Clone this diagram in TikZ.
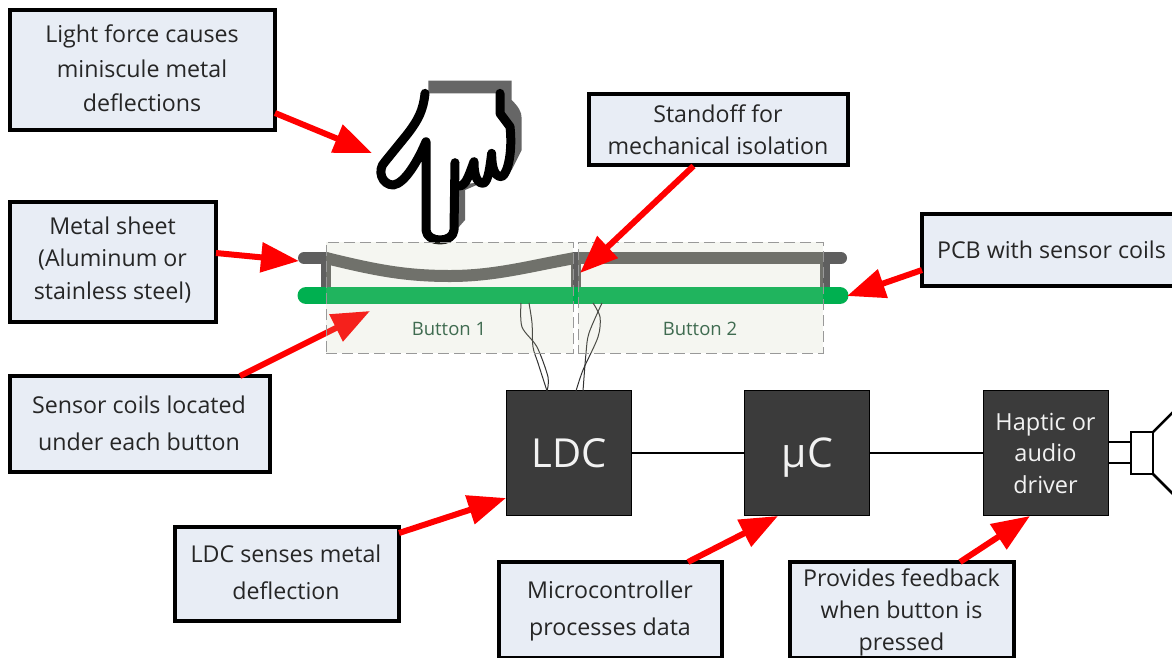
\documentclass[tikz,border=0pt]{standalone}
\usepackage{fontspec}
\setmainfont{Open Sans}
\usetikzlibrary{arrows.meta}
\definecolor{boxfill}{HTML}{E8EDF5}
\definecolor{darkbox}{HTML}{3B3B3B}
\definecolor{metal}{HTML}{5F5F5F}
\definecolor{pcbgreen}{HTML}{00B050}
\definecolor{buttonfill}{RGB}{200,205,170}
\definecolor{buttontext}{HTML}{3F6B50}
\definecolor{handshadow}{HTML}{666666}
\tikzset{
  infobox/.style={draw=black,line width=3.5pt,fill=boxfill,outer sep=0pt,inner sep=0pt},
  notetext/.style={inner sep=0pt,align=center,text=black!85,font=\fontsize{23.2}{#1}\selectfont},
  notetext/.default=35,
  chip/.style={draw=black,line width=1pt,fill=darkbox,text=white!95!black,outer sep=0pt,inner sep=0pt,align=center,minimum width=125pt,minimum height=125pt},
  callout/.style={draw=red,line width=6pt,-{Triangle[length=38pt,width=29pt]}},
  link/.style={draw=black,line width=2pt},
  wire/.style={draw=black!80,line width=1pt},
  sheet/.style={draw=metal,line width=12pt},
  post/.style={draw=metal,line width=10.5pt},
  buttonzone/.style={draw=black!40,dash pattern=on 11pt off 5pt,line width=1pt,fill=buttonfill,fill opacity=0.165,minimum height=111pt,outer sep=0pt,inner sep=0pt},
  buttonlabel/.style={text=buttontext,font=\fontsize{18.5}{20}\selectfont},
  handline/.style={draw=black,line width=9pt,line cap=round,line join=round}
}
\begin{document}
\begin{tikzpicture}[x=1pt,y=-1pt]
\useasboundingbox (0,0) rectangle (1172,657);
\clip (0,0) rectangle (1172,657);
\fill[white] (0,0) rectangle (1172,657);

% hand
\begin{scope}[shift={(290,70)},scale=1/3]
\fill[handshadow] (415,32) -- (665,32) -- (665,90) .. controls (685,110) and (695,125) .. (695,145) -- (695,240) -- (665,300) -- (525,360) -- (525,450) -- (490,490) -- (470,300) -- (415,70) -- cycle;
\fill[white] (405,70) .. controls (400,120) and (385,150) .. (350,195) -- (285,275) .. controls (260,300) and (275,345) .. (310,345) .. controls (340,340) and (370,290) .. (408,240) -- (408,480) .. controls (410,520) and (490,520) .. (492,480) -- (495,350) -- (640,320) .. controls (660,300) and (668,240) .. (660,170) -- (630,130) -- (630,70) -- cycle;
\draw[handline] (405,70) .. controls (400,120) and (385,150) .. (350,195) -- (285,275) .. controls (260,300) and (275,345) .. (310,345) .. controls (345,340) and (385,270) .. (408,215) -- (408,480) .. controls (410,520) and (490,520) .. (492,480) -- (495,278);
\draw[handline] (495,345) .. controls (525,360) and (535,320) .. (552,275) .. controls (552,300) and (555,340) .. (580,340) .. controls (595,335) and (600,290) .. (605,250) .. controls (605,290) and (612,320) .. (635,320) .. controls (655,310) and (668,240) .. (660,170) -- (630,130) -- (630,70);
\end{scope}

% metal sheet and standoffs
\coordinate (sheetL) at (304,258);
\coordinate (sheetA) at (326,258);
\coordinate (sheetM) at (575,258);
\coordinate (sheetR) at (841,258);
\draw[post] (326,258) -- (326,290);
\draw[post] (576,258) -- (576,290);
\draw[post] (825,258) -- (825,290);
\draw[sheet,line cap=round] (sheetL) -- (sheetA);
\draw[sheet] (sheetA) .. controls (375,270) and (405,276) .. (450,276) .. controls (495,276) and (530,266) .. (sheetM);
\draw[sheet,line cap=round] (sheetM) -- (sheetR);
% PCB
\coordinate (pcbL) at (306,295.5);
\coordinate (pcbR) at (840,295.5);
\draw[pcbgreen,line width=17pt,line cap=round] (pcbL) -- (pcbR);

% chips
\node[chip,font=\fontsize{40}{44}\selectfont] (ldc) at (569,453) {LDC};
\node[chip] (uc) at (807,453) {};
\node[text=white!95!black,inner sep=0pt,font=\fontsize{41}{44}\selectfont] (uct) at (807.5,458) {μC};
\node[chip,font=\fontsize{23.5}{31.5}\selectfont] (drv) at (1045.5,453) {Haptic or\\audio\\driver};
\draw[link] (ldc) -- (uc);
\draw[link] (uc) -- (drv);

% wires
\coordinate (w1) at (521,303); \coordinate (w2) at (529,303);
\coordinate (w3) at (593,303); \coordinate (w4) at (602,303);
\coordinate (w5) at (547,391); \coordinate (w6) at (547,391);
\coordinate (w7) at (576,391); \coordinate (w8) at (583,391);
\draw[wire] plot[smooth] coordinates {(w1) (522,327) (537,347) (548,377) (w5)};
\draw[wire] plot[smooth] coordinates {(w2) (532,323) (533,347) (538,363) (w6)};
\draw[wire] plot[smooth] coordinates {(w3) (600,317) (598,337) (583,370) (w7)};
\draw[wire] plot[smooth] coordinates {(w4) (589,333) (586,353) (w8)};

% info boxes
\node[infobox,minimum width=265pt,minimum height=120pt] (light) at (142.5,70) {};
\node[notetext=34.5] (lightT) at (142,68.5) {Light force causes\\miniscule metal\\deflections};
\node[infobox,minimum width=206pt,minimum height=120pt] (sheetbox) at (113,262) {};
\node[notetext=32.5] (sheetT) at (112.5,260) {Metal sheet\\(Aluminum or\\stainless steel)};
\node[infobox,minimum width=259pt,minimum height=71pt] (standoff) at (718.5,129.5) {};
\node[notetext=32] (standoffT) at (718,129.5) {Standoff for\\mechanical isolation};
\node[infobox,minimum width=256pt,minimum height=72pt] (pcb) at (1050,250) {};
\node[notetext] (pcbT) at (1051.5,250) {PCB with sensor coils};
\node[infobox,minimum width=260pt,minimum height=96pt] (coils) at (140,424) {};
\node[notetext=37] (coilsT) at (139,423) {Sensor coils located\\under each button};
\node[infobox,minimum width=224pt,minimum height=94pt] (ldcnote) at (287,574) {};
\node[notetext=37] (ldcT) at (286,572.5) {LDC senses metal\\deflection};
\node[infobox,minimum width=223pt,minimum height=96pt] (ucnote) at (610.5,610) {};
\node[notetext=37] (ucT) at (610,611) {Microcontroller\\processes data};
\node[infobox,minimum width=224pt,minimum height=96pt] (drvnote) at (902,610) {};
\node[notetext=32] (drvT) at (901.5,612.5) {Provides feedback\\when button is\\pressed};

% callouts
\coordinate (tipLight) at (372,153);
\coordinate (tipSheet) at (299,261);
\coordinate (tipPost) at (580,273);
\coordinate (tipPcb) at (847,296);
\coordinate (tipCoils) at (370,311);
\coordinate (tipLdc) at (506,498);
\coordinate (tipUc) at (778,516);
\coordinate (tipDrv) at (1030,516);
\draw[callout] (coils.north) ++(100,0) -- (tipCoils);

% buttons
\node[buttonzone,minimum width=247pt] (b1) at (449.5,297.5) {};
\node[buttonzone,minimum width=245pt] (b2) at (700.5,297.5) {};
\node[buttonlabel] (b1t) at (449,328.5) {Button 1};
\node[buttonlabel] (b2t) at (700,328.5) {Button 2};

\draw[callout] (light.east) ++(0,43) -- (tipLight);
\draw[callout] (sheetbox.east) ++(0,-9) -- (tipSheet);
\draw[callout] (standoff.south) ++(-25,1) -- (tipPost);
\draw[callout] (pcb.west) ++(0,20) -- (tipPcb);
\draw[callout] (ldcnote.north east) ++(0,6) -- (tipLdc);
\draw[callout] (ucnote.north east) ++(-34,0) -- (tipUc);
\draw[callout] (drvnote.north east) ++(-54,0) -- (tipDrv);

% speaker
\coordinate (spkA) at (1131,442);
\coordinate (spkB) at (1131,463);
\coordinate (spkTL) at (1153,432);
\coordinate (spkBL) at (1153,474);
\coordinate (coneT) at (1176,409);
\coordinate (coneB) at (1176,497);
\draw[line width=2.5pt] (drv.east |- spkA) -- (spkA);
\draw[line width=2.5pt] (drv.east |- spkB) -- (spkB);
\draw[line width=2.5pt] (spkTL) -- (coneT);
\draw[line width=2.5pt] (spkBL) -- (coneB);
\draw[line width=2.5pt] (1131,432) rectangle (1153,474);
\end{tikzpicture}
\end{document}
